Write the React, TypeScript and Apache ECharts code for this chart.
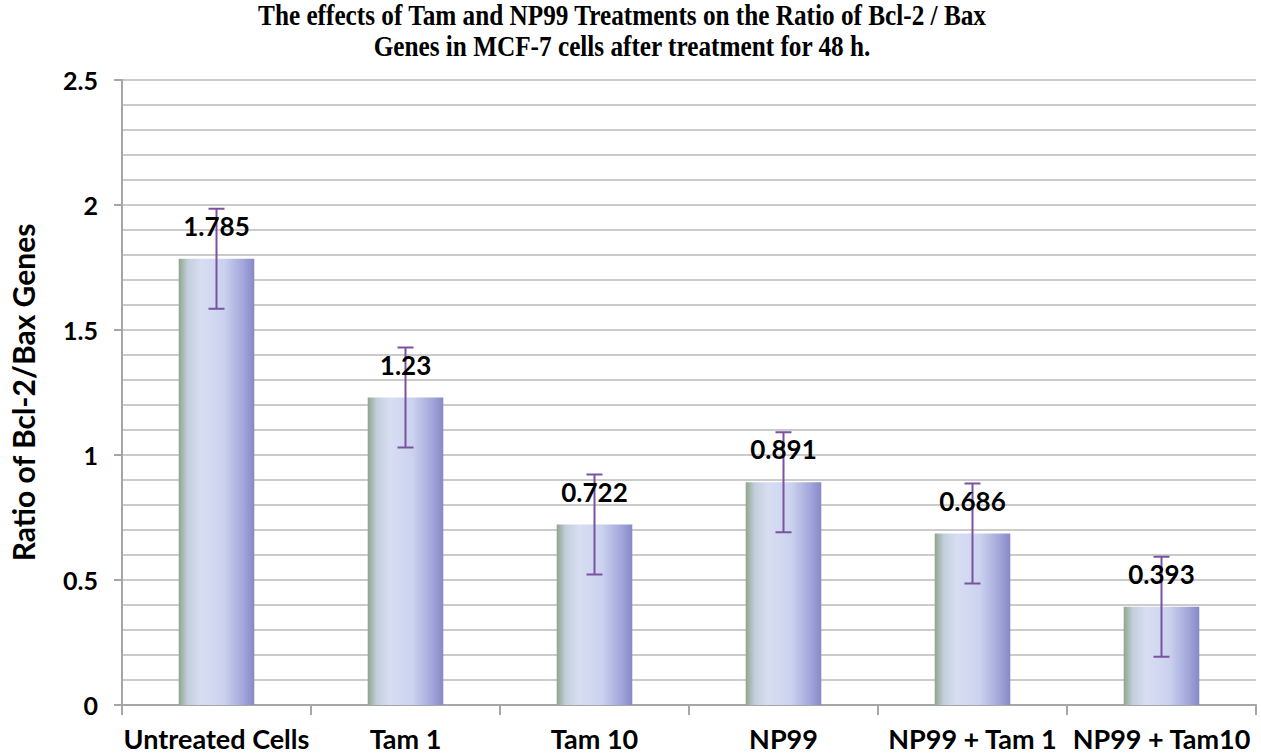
import React, { useEffect, useRef } from "react";
import * as echarts from "echarts";

const categories = ["Untreated Cells", "Tam 1", "Tam 10", "NP99", "NP99 + Tam 1", "NP99 + Tam10"];
const ratios = [1.785, 1.23, 0.722, 0.891, 0.686, 0.393];
const errors = [0.2, 0.2, 0.2, 0.2, 0.2, 0.2];
const titleLines = [
  "The effects of Tam and NP99 Treatments on the Ratio of Bcl-2 / Bax",
  "Genes in MCF-7 cells after treatment for 48 h.",
];
const yAxisName = "Ratio of Bcl-2/Bax Genes";

export default function App() {
  const ref = useRef<HTMLDivElement>(null);
  useEffect(() => {
    if (!ref.current) return;
    const chart = echarts.init(ref.current, null, { renderer: "svg" });
    const barGradient = new echarts.graphic.LinearGradient(0, 0, 1, 0, [
      { offset: 0, color: "#8fa58c" },
      { offset: 0.12, color: "#c3cfdc" },
      { offset: 0.3, color: "#d7def2" },
      { offset: 0.6, color: "#cbd2ee" },
      { offset: 0.85, color: "#a3a7da" },
      { offset: 1, color: "#8689c6" },
    ]);
    const font = "Lato";
    chart.setOption({
      animation: false,
      graphic: [
        {
          type: "text",
          x: 622,
          y: 0,
          scaleX: 0.87,
          style: {
            text: titleLines.join("\n"),
            align: "center",
            verticalAlign: "top",
            fontFamily: "Liberation Serif",
            fontWeight: "bold",
            fontSize: 29,
            lineHeight: 31,
            fill: "#000",
          },
        },
      ],
      grid: { left: 118, right: 5, top: 80, bottom: 50, containLabel: false },
      xAxis: {
        type: "category",
        data: categories,
        axisLine: { lineStyle: { color: "#a6a6a6", width: 2 } },
        axisTick: { show: true, alignWithLabel: false, length: 10, lineStyle: { color: "#a6a6a6", width: 2 } },
        axisLabel: { fontFamily: font, fontWeight: "bold", fontSize: 27, color: "#000", margin: 20, interval: 0 },
      },
      yAxis: {
        type: "value",
        min: 0,
        max: 2.5,
        interval: 0.5,
        name: yAxisName,
        nameLocation: "middle",
        nameGap: 84,
        nameTextStyle: { fontFamily: font, fontWeight: "bold", fontSize: 30, color: "#000" },
        axisLine: { show: true, lineStyle: { color: "#a6a6a6", width: 2 } },
        axisTick: { show: true, length: 8, lineStyle: { color: "#a6a6a6", width: 2 } },
        axisLabel: { fontFamily: font, fontWeight: "bold", fontSize: 25, color: "#000", margin: 24 },
        splitLine: { show: true, lineStyle: { color: "#cbcbcb", width: 2 } },
        minorTick: { show: false, splitNumber: 5 },
        minorSplitLine: { show: true, lineStyle: { color: "#cbcbcb", width: 2 } },
      },
      series: [
        {
          type: "bar",
          data: ratios,
          barWidth: "40%",
          itemStyle: { color: barGradient },
          z: 2,
        },
        {
          type: "custom",
          z: 3,
          data: ratios.map((v, i) => [i, v, errors[i]]),
          renderItem: (params: any, api: any) => {
            const i = api.value(0);
            const v = api.value(1);
            const e = api.value(2);
            const top = api.coord([i, v + e]);
            const bot = api.coord([i, v - e]);
            const half = 8;
            const style = { stroke: "#7a52a0", lineWidth: 2 };
            return {
              type: "group",
              children: [
                { type: "line", shape: { x1: top[0], y1: top[1], x2: bot[0], y2: bot[1] }, style },
                { type: "line", shape: { x1: top[0] - half, y1: top[1], x2: top[0] + half, y2: top[1] }, style },
                { type: "line", shape: { x1: bot[0] - half, y1: bot[1], x2: bot[0] + half, y2: bot[1] }, style },
              ],
            };
          },
        },
        {
          type: "bar",
          data: ratios,
          barWidth: "40%",
          barGap: "-100%",
          itemStyle: { color: "rgba(0,0,0,0)" },
          z: 4,
          label: {
            show: true,
            position: "top",
            distance: 20,
            fontFamily: font,
            fontWeight: "bold",
            fontSize: 26,
            color: "#000",
            formatter: (p: any) => String(p.value),
          },
        },
      ],
    });
    return () => chart.dispose();
  }, []);
  return (
    <div
      ref={ref}
      style={{ position: "absolute", left: 0, top: 0, width: 1261, height: 755, background: "#fff" }}
    />
  );
}
